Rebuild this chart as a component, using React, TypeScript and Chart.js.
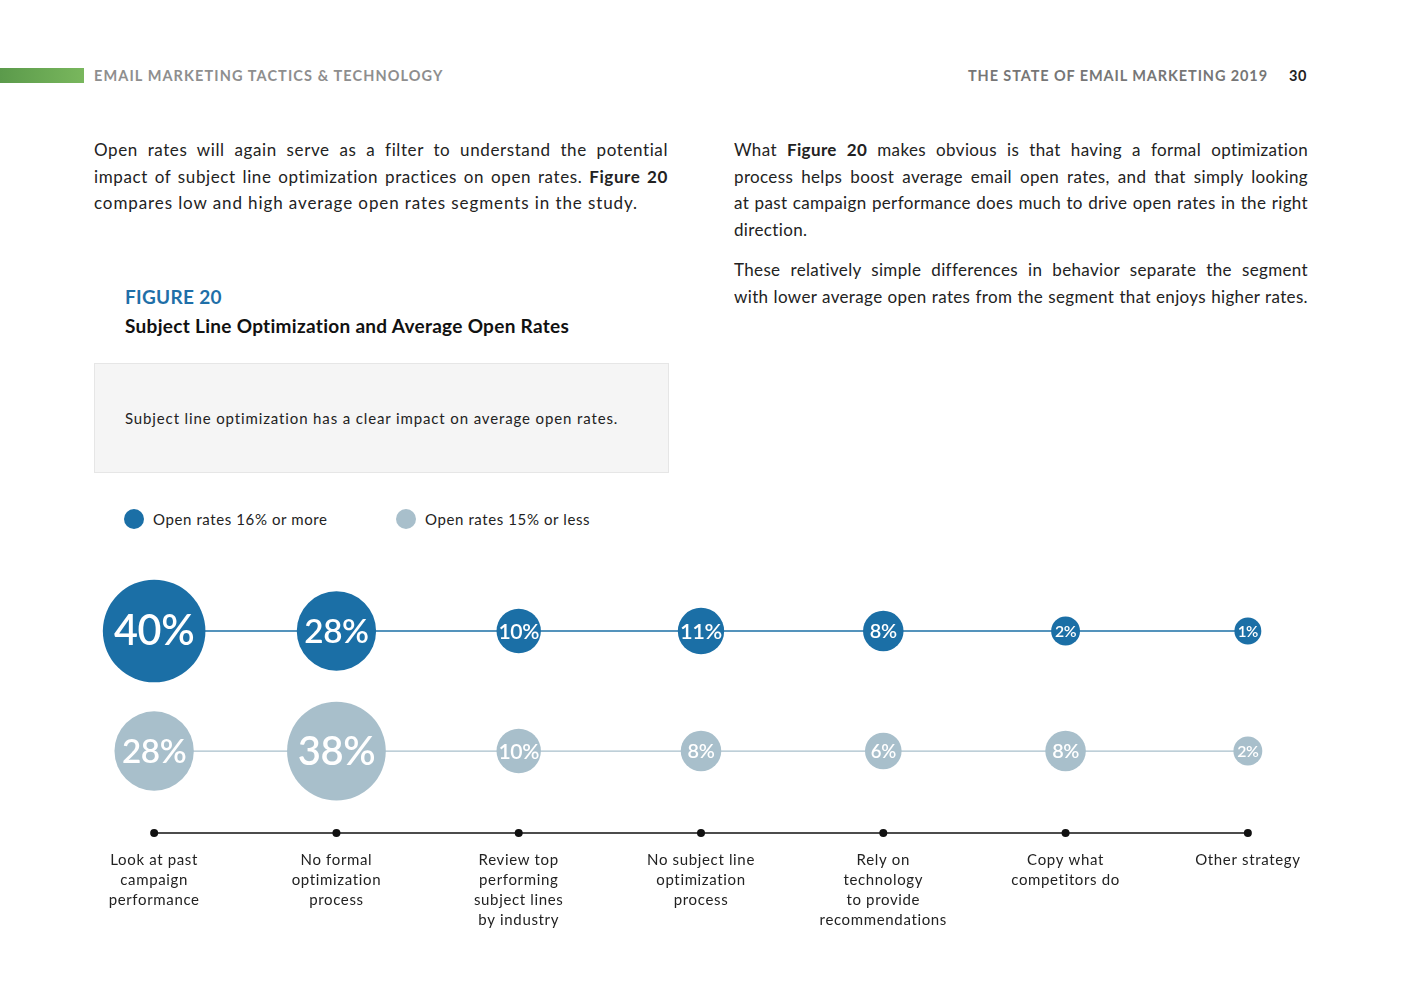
import React, { useEffect, useRef } from "react";
import { Chart, registerables } from "chart.js";

Chart.register(...registerables);

// ---------- data ----------
const categories: string[][] = [
  ["Look at past", "campaign", "performance"],
  ["No formal", "optimization", "process"],
  ["Review top", "performing", "subject lines", "by industry"],
  ["No subject line", "optimization", "process"],
  ["Rely on", "technology", "to provide", "recommendations"],
  ["Copy what", "competitors do"],
  ["Other strategy"],
];
const highOpenRates = [40, 28, 10, 11, 8, 2, 1];
const lowOpenRates = [28, 38, 10, 8, 6, 8, 2];
const seriesNames = ["Open rates 16% or more", "Open rates 15% or less"];

// row levels on the (hidden) y scale
const HIGH_ROW = 2;
const LOW_ROW = 1;
const AXIS_ROW = 0.317;

const DARK = "#1b6fa6";
const LIGHT = "#a8bfcb";
const FONT = "Lato, 'Open Sans', sans-serif";

const radiusFor = (v: number) => 12.5 + v * 0.97;
const labelSizeFor = (v: number) => 14.5 + v * 0.67;

const textSpacing = {
  id: "textSpacing",
  beforeUpdate(chart: any) {
    (chart.ctx as any).letterSpacing = "0.65px";
  },
  beforeDraw(chart: any) {
    (chart.ctx as any).letterSpacing = "0.65px";
  },
};

const bubbleLabels = {
  id: "bubbleLabels",
  afterDatasetsDraw(chart: any) {
    const ctx = chart.ctx;
    chart.data.datasets.forEach((ds: any, di: number) => {
      if (ds.type !== "bubble") return;
      const meta = chart.getDatasetMeta(di);
      meta.data.forEach((el: any, i: number) => {
        const v = ds.data[i].v;
        ctx.save();
        (ctx as any).letterSpacing = "-0.4px";
        ctx.fillStyle = "#ffffff";
        ctx.textAlign = "center";
        ctx.textBaseline = "middle";
        ctx.font = `600 ${labelSizeFor(v)}px ${FONT}`;
        ctx.fillText(`${v}%`, el.x, el.y + 1);
        ctx.restore();
      });
    });
  },
};

function BubbleChart() {
  const ref = useRef<HTMLCanvasElement | null>(null);
  useEffect(() => {
    if (!ref.current) return;
    const chart = new Chart(ref.current, {
      type: "bubble",
      data: {
        labels: categories as any,
        datasets: [
          {
            type: "bubble",
            label: seriesNames[0],
            data: highOpenRates.map((v, i) => ({ x: i, y: HIGH_ROW, r: radiusFor(v), v })) as any,
            backgroundColor: DARK,
            borderWidth: 0,
            clip: false as any,
            order: 0,
          },
          {
            type: "bubble",
            label: seriesNames[1],
            data: lowOpenRates.map((v, i) => ({ x: i, y: LOW_ROW, r: radiusFor(v), v })) as any,
            backgroundColor: LIGHT,
            borderWidth: 0,
            clip: false as any,
            order: 0,
          },
          {
            type: "line",
            label: "high-line",
            data: highOpenRates.map((_, i) => ({ x: i, y: HIGH_ROW })) as any,
            borderColor: DARK,
            borderWidth: 1.3,
            pointRadius: 0,
            clip: false as any,
            order: 2,
          } as any,
          {
            type: "line",
            label: "low-line",
            data: lowOpenRates.map((_, i) => ({ x: i, y: LOW_ROW })) as any,
            borderColor: LIGHT,
            borderWidth: 1.2,
            pointRadius: 0,
            clip: false as any,
            order: 2,
          } as any,
          {
            type: "line",
            label: "axis",
            data: categories.map((_, i) => ({ x: i, y: AXIS_ROW })) as any,
            borderColor: "#111111",
            borderWidth: 1.5,
            pointRadius: 4,
            pointBackgroundColor: "#111111",
            pointBorderWidth: 0,
            clip: false as any,
            order: 1,
          } as any,
        ],
      },
      options: {
        animation: false,
        responsive: false,
        events: [],
        layout: { autoPadding: false, padding: { left: 63, right: 64, top: 21, bottom: 0 } },
        plugins: {
          legend: { display: false },
          tooltip: { enabled: false },
        },
        scales: {
          x: {
            type: "category",
            offset: true,
            grid: { display: false, drawTicks: false },
            border: { display: false },
            afterFit: (scale: any) => {
              scale.height = 117;
            },
            ticks: {
              autoSkip: false,
              maxRotation: 0,
              minRotation: 0,
              padding: 17,
              color: "#222222",
              font: { family: FONT, size: 15, lineHeight: 20 / 15 },
            },
          },
          y: {
            type: "linear",
            display: false,
            min: AXIS_ROW,
            max: 2.5,
          },
        },
      },
      plugins: [textSpacing, bubbleLabels],
    });
    return () => chart.destroy();
  }, []);
  return (
    <canvas
      ref={ref}
      width={1403}
      height={400}
      style={{ position: "absolute", left: 0, top: 550, width: 1403, height: 400 }}
    />
  );
}

const lineStyle = (ls: number, justify: boolean): React.CSSProperties => ({
  fontSize: 17,
  lineHeight: "26.7px",
  color: "#222",
  letterSpacing: ls,
  whiteSpace: "nowrap",
  textAlign: justify ? "justify" : "left",
  textAlignLast: justify ? "justify" : "left",
});

function Lines({
  lines,
  ls,
  lastLs,
  lastJustify,
}: {
  lines: React.ReactNode[];
  ls: number;
  lastLs?: number;
  lastJustify?: boolean;
}) {
  return (
    <div>
      {lines.map((l, i) => {
        const last = i === lines.length - 1;
        return (
          <div key={i} style={lineStyle(last && lastLs !== undefined ? lastLs : ls, !last || !!lastJustify)}>
            {l}
          </div>
        );
      })}
    </div>
  );
}

const header: React.CSSProperties = {
  position: "absolute",
  top: 67,
  fontSize: 14.5,
  fontWeight: 700,
  letterSpacing: 1.1,
  lineHeight: "18px",
  whiteSpace: "nowrap",
};

export default function App() {
  return (
    <div
      style={{
        position: "absolute",
        left: 0,
        top: 0,
        width: 1403,
        height: 992,
        background: "#fff",
        fontFamily: FONT,
        overflow: "hidden",
      }}
    >
      {/* header */}
      <div
        style={{
          position: "absolute",
          left: 0,
          top: 68,
          width: 84,
          height: 15,
          background: "linear-gradient(to right, #5b9a4b, #79b75d)",
        }}
      />
      <div style={{ ...header, left: 94, color: "#8e8e8e" }}>
        EMAIL MARKETING TACTICS &amp; TECHNOLOGY
      </div>
      <div style={{ ...header, right: 1403 - 1268, color: "#767676", letterSpacing: 0.9 }}>
        THE STATE OF EMAIL MARKETING 2019
      </div>
      <div style={{ ...header, left: 1289, color: "#222", letterSpacing: 0.6 }}>30</div>

      {/* left column text */}
      <div style={{ position: "absolute", left: 94, top: 137, width: 574 }}>
        <Lines
          ls={0.6}
          lastLs={0.9}
          lines={[
            "Open rates will again serve as a filter to understand the potential",
            <>
              impact of subject line optimization practices on open rates. <b>Figure 20</b>
            </>,
            "compares low and high average open rates segments in the study.",
          ]}
        />
      </div>

      {/* right column text */}
      <div style={{ position: "absolute", left: 734, top: 137, width: 574 }}>
        <Lines
          ls={0.35}
          lines={[
            <>
              What <b>Figure 20</b> makes obvious is that having a formal optimization
            </>,
            "process helps boost average email open rates, and that simply looking",
            "at past campaign performance does much to drive open rates in the right",
            "direction.",
          ]}
        />
        <div style={{ height: 13.5 }} />
        <Lines
          ls={0.35}
          lastJustify
          lines={[
            "These relatively simple differences in behavior separate the segment",
            "with lower average open rates from the segment that enjoys higher rates.",
          ]}
        />
      </div>

      {/* figure title */}
      <div
        style={{
          position: "absolute",
          left: 125,
          top: 286,
          fontSize: 19,
          fontWeight: 700,
          color: "#1f6fa8",
          lineHeight: "22px",
          letterSpacing: 0.3,
        }}
      >
        FIGURE 20
      </div>
      <div
        style={{
          position: "absolute",
          left: 125,
          top: 315,
          fontSize: 19,
          fontWeight: 700,
          color: "#111",
          lineHeight: "22px",
          letterSpacing: 0.3,
          whiteSpace: "nowrap",
        }}
      >
        Subject Line Optimization and Average Open Rates
      </div>

      {/* callout box */}
      <div
        style={{
          position: "absolute",
          left: 94,
          top: 363,
          width: 573,
          height: 108,
          background: "#f5f5f5",
          border: "1px solid #e6e6e6",
        }}
      >
        <div
          style={{
            position: "absolute",
            left: 30,
            top: 44,
            fontSize: 15,
            lineHeight: "20px",
            color: "#222",
            letterSpacing: 0.87,
            whiteSpace: "nowrap",
          }}
        >
          Subject line optimization has a clear impact on average open rates.
        </div>
      </div>

      {/* legend */}
      {[DARK, LIGHT].map((c, i) => (
        <div
          key={i}
          style={{
            position: "absolute",
            left: i === 0 ? 124 : 396,
            top: 509,
            display: "flex",
            alignItems: "center",
            height: 20,
          }}
        >
          <span
            style={{
              display: "inline-block",
              width: 20,
              height: 20,
              borderRadius: "50%",
              background: c,
              marginRight: 9,
            }}
          />
          <span style={{ fontSize: 15, color: "#222", letterSpacing: 0.6, whiteSpace: "nowrap" }}>
            {seriesNames[i]}
          </span>
        </div>
      ))}

      <BubbleChart />
    </div>
  );
}
